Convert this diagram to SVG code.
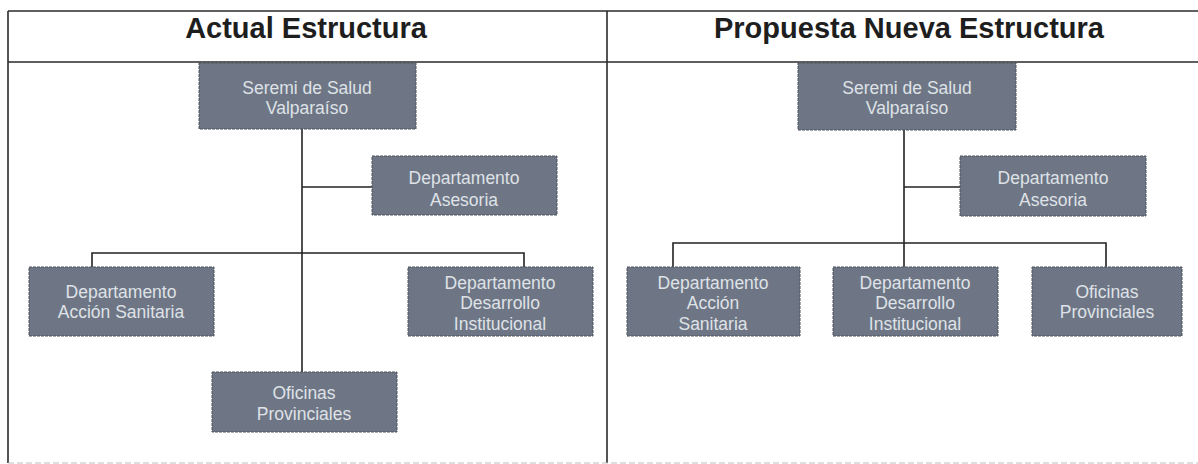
<svg xmlns="http://www.w3.org/2000/svg" width="1198" height="464" viewBox="0 0 1198 464">
<style>
.tbl{stroke:#2a2a2a;stroke-width:1.6;fill:none}
.tblb{stroke:#bdbdbd;stroke-width:1.2;stroke-dasharray:6 3;fill:none}
.hdr{font-family:"Liberation Sans",Arial,sans-serif;font-weight:bold;font-size:29px;fill:#1e1e1e;text-anchor:middle}
.box{fill:#6e7685;stroke:#4d525c;stroke-width:1;stroke-dasharray:3 1}
.lbl{font-family:"Liberation Sans",Arial,sans-serif;font-size:17.5px;fill:#dfe2e7;text-anchor:middle}
.con{stroke:#222;stroke-width:1.6;fill:none}
</style>
<rect x="0" y="0" width="1198" height="464" fill="#ffffff"/>
<g id="table">
<line class="tbl" x1="8" y1="11" x2="1198" y2="11"/>
<line class="tbl" x1="8" y1="62" x2="1198" y2="62"/>
<line class="tbl" x1="8" y1="11" x2="8" y2="463"/>
<line class="tbl" x1="607" y1="11" x2="607" y2="463"/>
<line class="tblb" x1="8" y1="463" x2="1198" y2="463"/>
<text class="hdr" x="306" y="38">Actual Estructura</text>
<text class="hdr" x="909" y="38">Propuesta Nueva Estructura</text>
</g>
<g id="connectors">
<polyline class="con" points="302,129 302,372"/>
<polyline class="con" points="302,187 372,187"/>
<polyline class="con" points="92,267 92,253 524,253 524,267"/>
<polyline class="con" points="904,130 904,267"/>
<polyline class="con" points="904,187 960,187"/>
<polyline class="con" points="673,267 673,243 1106,243 1106,267"/>
</g>
<g id="a-seremi">
<rect class="box" x="199" y="63" width="217" height="66"/>
<text class="lbl" x="307" y="94">Seremi de Salud</text>
<text class="lbl" x="307" y="114">Valparaíso</text>
</g>
<g id="a-asesoria">
<rect class="box" x="372" y="156" width="185" height="59"/>
<text class="lbl" x="464" y="184">Departamento</text>
<text class="lbl" x="464" y="206">Asesoria</text>
</g>
<g id="a-accion">
<rect class="box" x="29" y="267" width="185" height="69"/>
<text class="lbl" x="121" y="298">Departamento</text>
<text class="lbl" x="121" y="318">Acción Sanitaria</text>
</g>
<g id="a-desarrollo">
<rect class="box" x="408" y="267" width="185" height="69"/>
<text class="lbl" x="500" y="289">Departamento</text>
<text class="lbl" x="500" y="309">Desarrollo</text>
<text class="lbl" x="500" y="330">Institucional</text>
</g>
<g id="a-oficinas">
<rect class="box" x="212" y="372" width="185" height="60"/>
<text class="lbl" x="304" y="399">Oficinas</text>
<text class="lbl" x="304" y="420">Provinciales</text>
</g>
<g id="p-seremi">
<rect class="box" x="798" y="63" width="218" height="67"/>
<text class="lbl" x="907" y="94">Seremi de Salud</text>
<text class="lbl" x="907" y="114">Valparaíso</text>
</g>
<g id="p-asesoria">
<rect class="box" x="960" y="156" width="186" height="60"/>
<text class="lbl" x="1053" y="184">Departamento</text>
<text class="lbl" x="1053" y="206">Asesoria</text>
</g>
<g id="p-accion">
<rect class="box" x="627" y="267" width="173" height="69"/>
<text class="lbl" x="713" y="289">Departamento</text>
<text class="lbl" x="713" y="309">Acción</text>
<text class="lbl" x="713" y="330">Sanitaria</text>
</g>
<g id="p-desarrollo">
<rect class="box" x="833" y="267" width="165" height="69"/>
<text class="lbl" x="915" y="289">Departamento</text>
<text class="lbl" x="915" y="309">Desarrollo</text>
<text class="lbl" x="915" y="330">Institucional</text>
</g>
<g id="p-oficinas">
<rect class="box" x="1032" y="267" width="150" height="69"/>
<text class="lbl" x="1107" y="298">Oficinas</text>
<text class="lbl" x="1107" y="318">Provinciales</text>
</g>
</svg>
